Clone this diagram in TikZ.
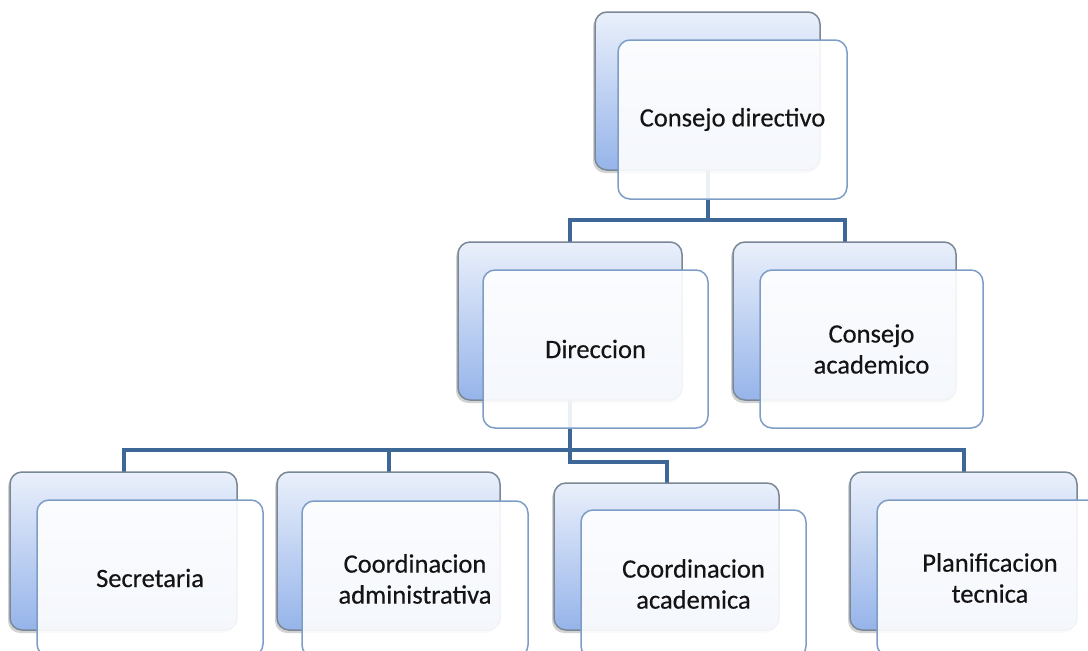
\documentclass[tikz,border=0pt]{standalone}
\usepackage{fontspec}
\setmainfont{Carlito}[FakeBold=0.4]
\usetikzlibrary{shadows}
\definecolor{connC}{HTML}{3D6797}
\definecolor{backTop}{HTML}{EAF0FB}
\definecolor{backBot}{HTML}{96B4EA}
\definecolor{backLine}{HTML}{7A8796}
\definecolor{frontLine}{HTML}{7D9DC6}
\definecolor{txtC}{HTML}{141414}
\pgfdeclarelayer{bg}
\pgfsetlayers{bg,main}
\begin{document}
\begin{tikzpicture}[x=1pt,y=-1pt,
  backbox/.style={rectangle, rounded corners=12pt, draw=backLine, line width=1.5pt,
    top color=backTop, bottom color=backBot, inner sep=0pt, outer sep=0pt,
    drop shadow={shadow xshift=-2pt, shadow yshift=-3pt, opacity=0.35}},
  frontbox/.style={rectangle, rounded corners=12pt, draw=frontLine, line width=1.5pt,
    fill=white, fill opacity=0.9, text opacity=1, text=txtC, inner sep=0pt, outer sep=0pt,
    align=center, font=\fontsize{26.5}{31}\selectfont},
  conn/.style={draw=connC, line width=4pt}]
\useasboundingbox (0,0) rectangle (1088,651);
\clip (0,0) rectangle (1088,651);

% level 1
\node[backbox, minimum width=225pt, minimum height=158pt] (cdB) at (707.5,91) {};
\node[frontbox, minimum width=229pt, minimum height=159pt] (cd) at (732.5,119.5) {Consejo directivo};

% level 2
\node[backbox, minimum width=224pt, minimum height=158pt] (dirB) at (570,321) {};
\node[frontbox, minimum width=225pt, minimum height=158pt] (dir) at (595.5,349) {Direccion};
\node[backbox, minimum width=223pt, minimum height=158pt] (caB) at (844.5,321) {};
\node[frontbox, minimum width=223pt, minimum height=158pt] (ca) at (871.5,349) {Consejo\\academico};

% level 3
\node[backbox, minimum width=227pt, minimum height=158pt] (secB) at (123.5,551) {};
\node[frontbox, minimum width=226pt, minimum height=156pt] (sec) at (150,578) {Secretaria};
\node[backbox, minimum width=223pt, minimum height=158pt] (admB) at (388.5,551) {};
\node[frontbox, minimum width=226pt, minimum height=156pt] (adm) at (415,579) {Coordinacion\\administrativa};
\node[backbox, minimum width=225pt, minimum height=147pt] (acaB) at (666.5,556.5) {};
\node[frontbox, minimum width=225pt, minimum height=148pt] (aca) at (693.5,584) {Coordinacion\\academica};
\node[backbox, minimum width=227pt, minimum height=158pt] (plB) at (963.5,551) {};
\node[frontbox, minimum width=226pt, minimum height=156pt] (pl) at (990,578) {Planificacion\\tecnica};

% junctions
\coordinate (j1) at (707.5,220);
\coordinate (j2) at (570,450);
\coordinate (j3) at (570,462);

\begin{pgfonlayer}{bg}
\fill[white] (0,0) rectangle (1088,651);
\draw[conn] (cdB.south) -- (j1);
\draw[conn] (dirB.north) |- (j1) -| (caB.north);
\draw[conn] (dirB.south) -- (j3) -| (acaB.north);
\draw[conn] (secB.north) |- (j2) -| (plB.north);
\draw[conn] (admB.north) -- (admB.north |- j2);
\end{pgfonlayer}
\end{tikzpicture}
\end{document}
